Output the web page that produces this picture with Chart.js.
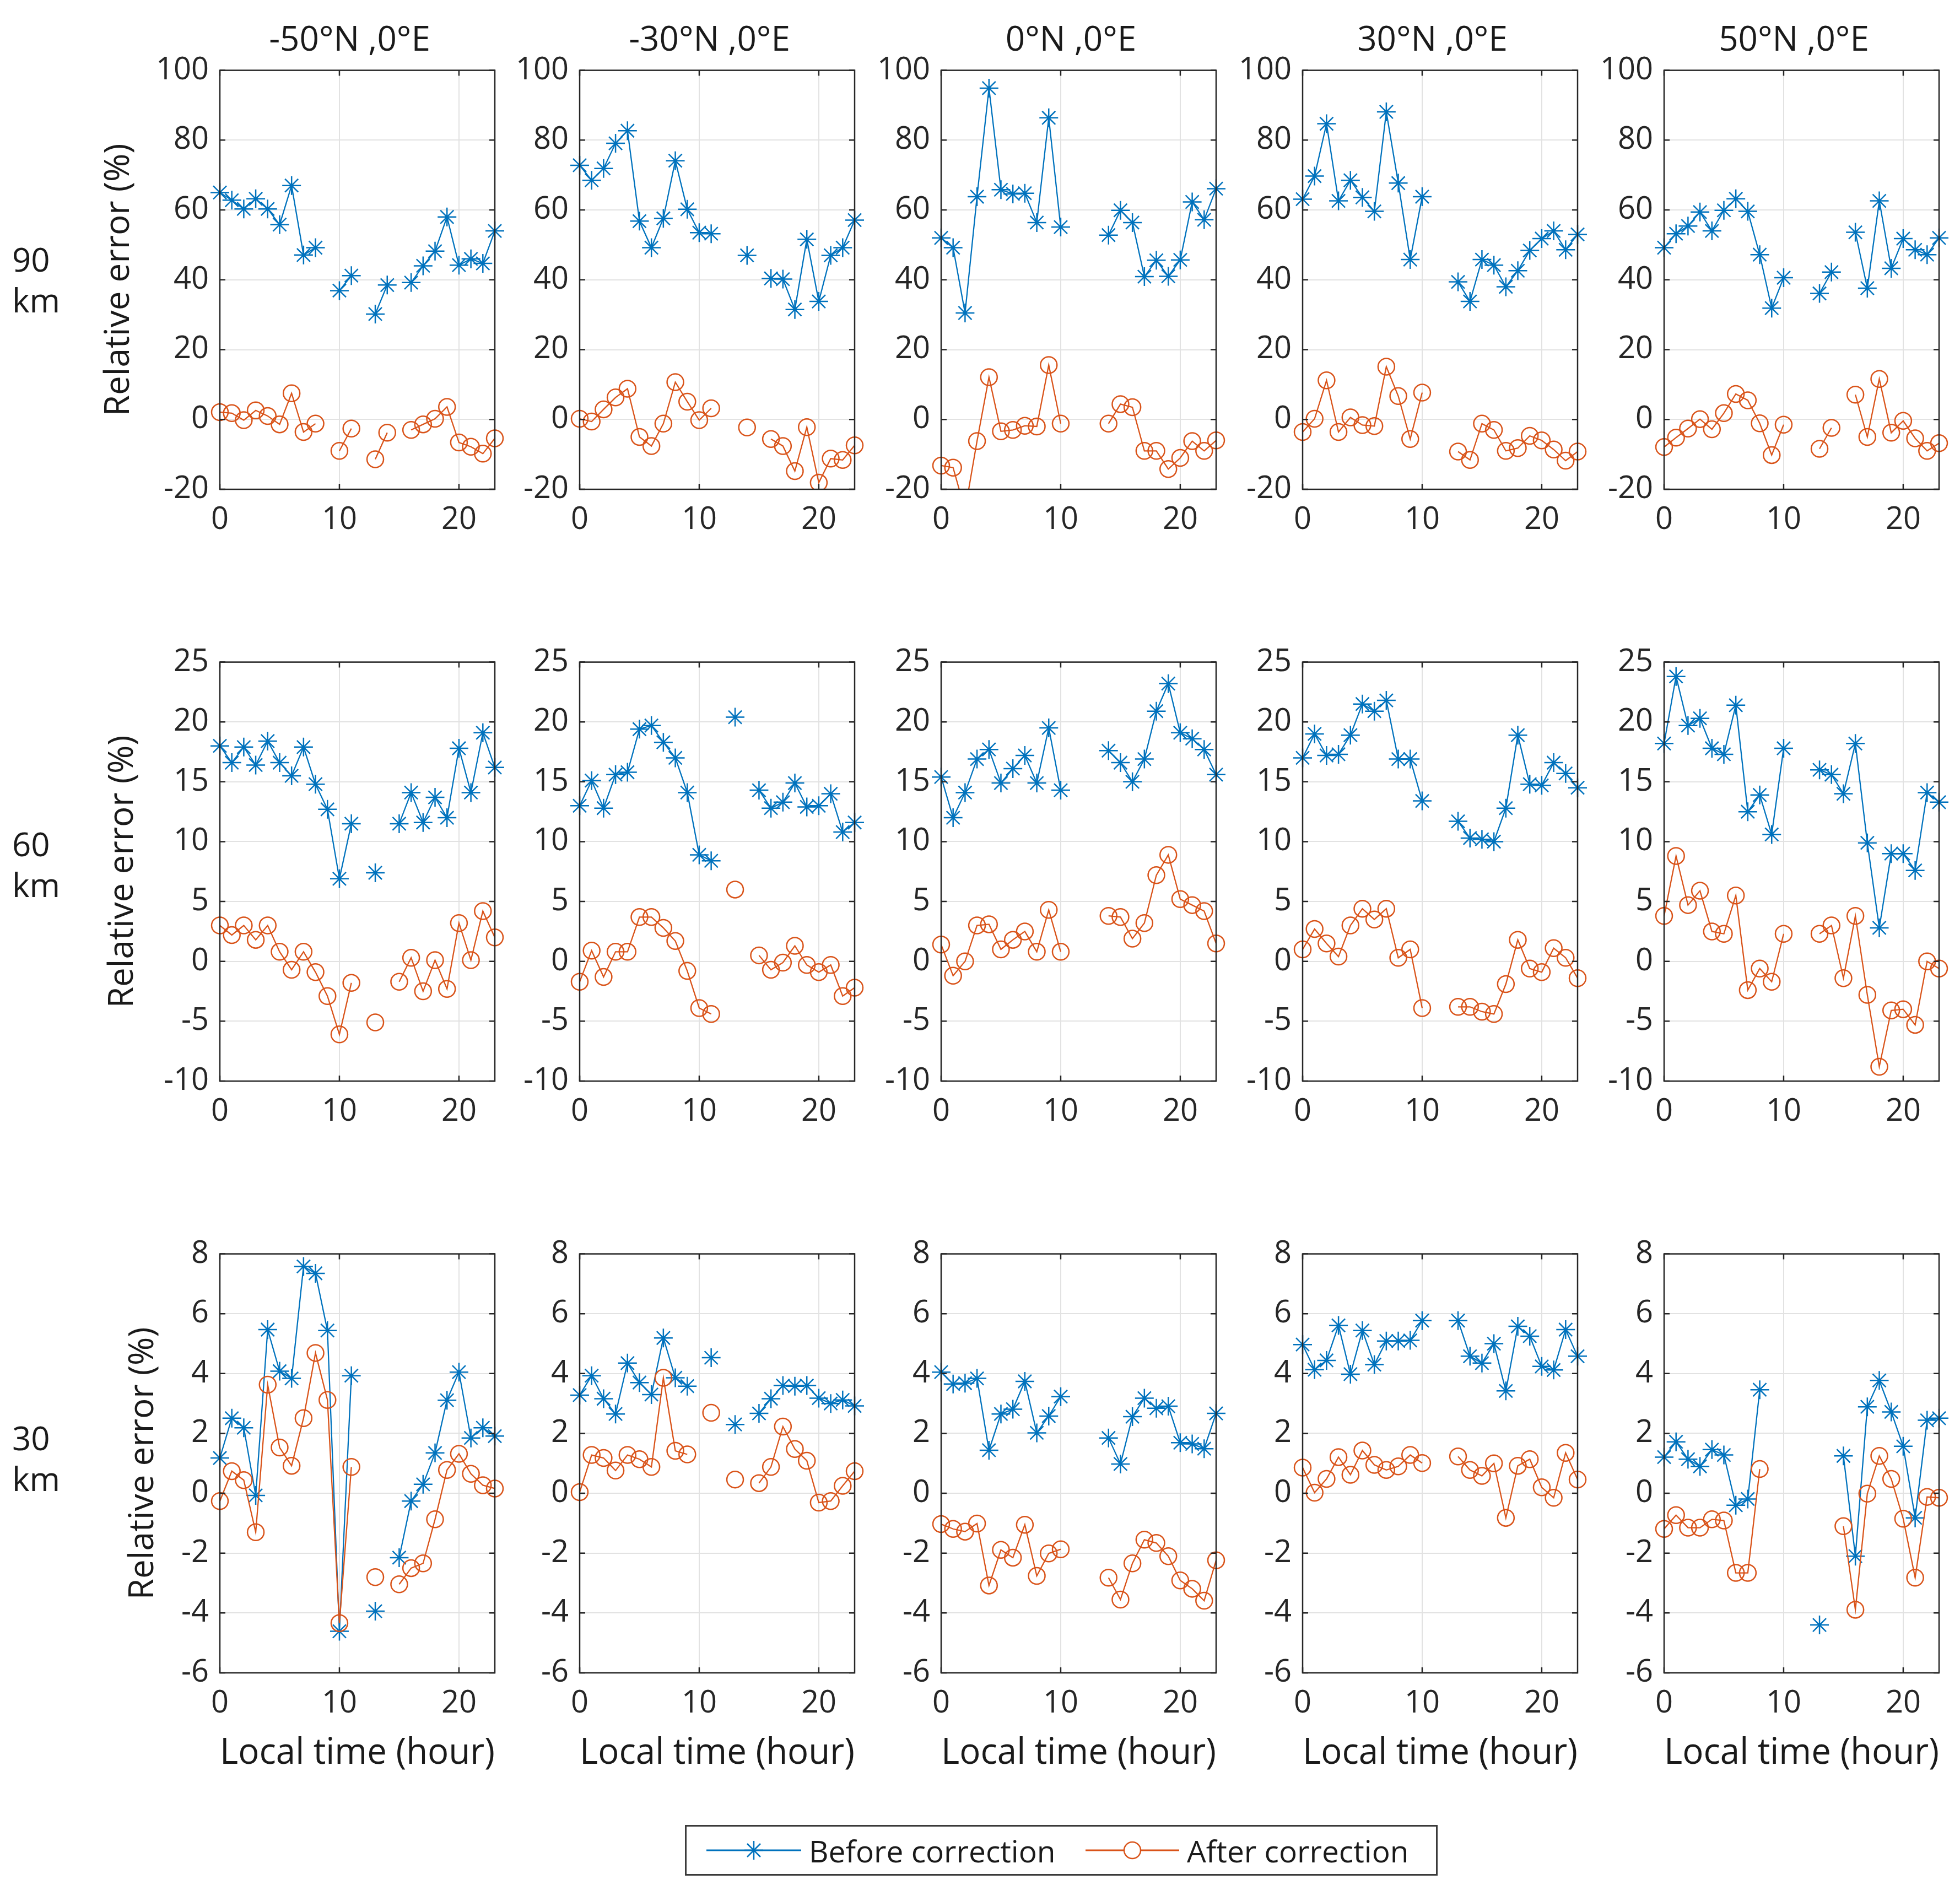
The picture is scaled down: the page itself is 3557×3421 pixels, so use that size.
<!DOCTYPE html>
<html>
<head>
<meta charset="utf-8">
<script src="https://cdn.jsdelivr.net/npm/chart.js@4.4.1/dist/chart.umd.min.js"></script>
<style>
  html,body{margin:0;padding:0;background:#fff;}
  body{width:3557px;height:3421px;position:relative;overflow:hidden;font-family:'Open Sans','Noto Sans',sans-serif;color:#1a1a1a;}
  canvas{position:absolute;}
  .ttl{position:absolute;font-size:62px;white-space:nowrap;transform:translate(-50%,-50%);}
  .alt{position:absolute;font-size:60px;line-height:74px;left:22px;}
  #legend{position:absolute;left:1243px;top:3312px;width:1360px;height:86px;border:3px solid #3a3a3a;background:#fff;}
  #legend .item{position:absolute;top:0;height:86px;display:flex;align-items:center;font-size:55px;}
  #legend svg{margin-right:14px;}
</style>
</head>
<body>
<div id="legend">
  <div class="item" style="left:36px">
    <svg width="172" height="60"><line x1="0" y1="30" x2="172" y2="30" stroke="#0072BD" stroke-width="3"/>
      <g stroke="#0072BD" stroke-width="2.5"><line x1="69" y1="30" x2="103" y2="30"/><line x1="86" y1="13" x2="86" y2="47"/><line x1="74" y1="18" x2="98" y2="42"/><line x1="74" y1="42" x2="98" y2="18"/></g></svg>
    <span>Before correction</span>
  </div>
  <div class="item" style="left:724px">
    <svg width="170" height="60"><line x1="0" y1="30" x2="170" y2="30" stroke="#D95319" stroke-width="3"/>
      <circle cx="85" cy="30" r="15" fill="#fff" stroke="#D95319" stroke-width="2.5"/></svg>
    <span>After correction</span>
  </div>
</div>
<script>
const HOURS = [0,1,2,3,4,5,6,7,8,9,10,11,12,13,14,15,16,17,18,19,20,21,22,23];
const XTICKS = [0,10,20];
const LATS = ['-50°N ,0°E','-30°N ,0°E','0°N ,0°E','30°N ,0°E','50°N ,0°E'];
const ALTS = ['90','60','30'];
const YTICKS_90 = [-20,0,20,40,60,80,100];
const YTICKS_60 = [-10,-5,0,5,10,15,20,25];
const YTICKS_30 = [-6,-4,-2,0,2,4,6,8];

// one row per latitude (-50, -30, 0, 30, 50), one value per local hour
const before_90 = [
  [65.0,62.8,60.3,63.2,60.3,55.8,67.0,47.1,49.2,null,36.9,41.2,null,30.2,38.5,null,39.2,44.0,48.2,58.0,44.2,46.0,44.7,54.0],
  [72.8,68.5,71.9,79.1,82.7,56.8,49.2,57.6,74.1,60.2,53.5,53.2,null,null,47.0,null,40.4,40.2,31.5,51.6,33.8,47.0,49.2,57.1],
  [52.0,49.2,30.5,63.8,94.9,65.8,64.6,64.8,56.4,86.4,55.1,null,null,null,52.8,59.9,56.4,40.9,45.6,41.0,45.7,62.3,57.2,66.1],
  [63.1,69.7,84.7,62.6,68.5,63.6,59.6,88.1,67.7,45.8,63.8,null,null,39.4,33.8,45.8,44.2,38.0,42.6,48.4,51.8,54.0,48.6,53.0],
  [49.2,53.2,55.4,59.4,54.0,59.9,63.2,59.6,47.2,31.9,40.6,null,null,36.1,42.2,null,53.6,37.6,62.6,43.3,51.8,48.6,47.2,52.0]
];
const after_90 = [
  [2.1,1.8,-0.2,2.6,1.0,-1.4,7.5,-3.6,-1.2,null,-9.0,-2.6,null,-11.4,-3.8,null,-3.0,-1.4,0.2,3.6,-6.6,-7.8,-9.8,-5.4],
  [0.2,-0.6,2.9,6.3,8.8,-5.0,-7.6,-1.2,10.7,5.1,-0.2,3.2,null,null,-2.3,null,-5.6,-7.6,-14.8,-2.2,-18.1,-11.2,-11.6,-7.4],
  [-13.2,-13.8,-26.0,-6.2,12.1,-3.4,-3.0,-1.8,-2.0,15.6,-1.2,null,null,null,-1.2,4.4,3.5,-9.0,-9.0,-14.2,-11.0,-6.2,-9.0,-6.0],
  [-3.6,0.2,11.2,-3.6,0.6,-1.6,-1.9,15.1,6.7,-5.6,7.7,null,null,-9.2,-11.6,-1.2,-3.0,-9.0,-8.2,-4.7,-6.0,-8.6,-11.8,-9.2],
  [-7.9,-5.2,-2.6,0.1,-2.8,1.8,7.3,5.5,-1.1,-10.2,-1.5,null,null,-8.4,-2.4,null,7.1,-5.0,11.6,-3.8,-0.4,-5.4,-9.0,-6.8]
];
const before_60 = [
  [18.0,16.6,17.9,16.4,18.4,16.6,15.5,17.9,14.8,12.7,6.9,11.5,null,7.4,null,11.5,14.1,11.6,13.7,12.0,17.8,14.1,19.1,16.2],
  [13.0,15.1,12.8,15.6,15.8,19.4,19.7,18.3,17.0,14.1,8.9,8.4,null,20.4,null,14.3,12.8,13.3,14.9,12.9,13.0,14.0,10.8,11.6],
  [15.4,12.0,14.1,16.9,17.7,14.9,16.1,17.2,14.9,19.5,14.3,null,null,null,17.6,16.6,15.0,16.9,20.9,23.2,19.1,18.6,17.7,15.6],
  [17.0,19.0,17.2,17.3,18.9,21.5,20.9,21.8,16.9,16.9,13.4,null,null,11.7,10.3,10.2,10.0,12.8,18.9,14.8,14.7,16.6,15.7,14.5],
  [18.2,23.8,19.7,20.3,17.8,17.3,21.4,12.5,13.9,10.6,17.8,null,null,16.0,15.6,14.0,18.2,9.9,2.8,9.0,9.0,7.6,14.1,13.3]
];
const after_60 = [
  [3.0,2.2,3.0,1.8,3.0,0.8,-0.7,0.8,-0.9,-2.9,-6.1,-1.8,null,-5.1,null,-1.7,0.3,-2.5,0.1,-2.3,3.2,0.1,4.2,2.0],
  [-1.7,0.9,-1.3,0.8,0.8,3.7,3.7,2.8,1.7,-0.8,-3.9,-4.4,null,6.0,null,0.5,-0.7,-0.1,1.3,-0.3,-0.9,-0.3,-2.9,-2.2],
  [1.4,-1.2,0.0,3.0,3.1,1.0,1.8,2.5,0.8,4.3,0.8,null,null,null,3.8,3.7,1.9,3.2,7.2,8.9,5.2,4.7,4.2,1.5],
  [1.0,2.7,1.5,0.4,3.0,4.4,3.5,4.4,0.3,1.0,-3.9,null,null,-3.8,-3.8,-4.2,-4.4,-1.9,1.8,-0.6,-0.9,1.1,0.3,-1.4],
  [3.8,8.8,4.7,5.9,2.5,2.3,5.5,-2.4,-0.6,-1.7,2.3,null,null,2.3,3.0,-1.4,3.8,-2.8,-8.8,-4.1,-4.0,-5.3,0.0,-0.6]
];
const before_30 = [
  [1.18,2.51,2.19,-0.07,5.47,4.08,3.84,7.58,7.35,5.44,-4.61,3.93,null,-3.94,null,-2.15,-0.26,0.30,1.35,3.11,4.05,1.85,2.19,1.91],
  [3.28,3.93,3.16,2.65,4.35,3.70,3.30,5.19,3.86,3.58,null,4.53,null,2.30,null,2.67,3.16,3.60,3.58,3.60,3.18,3.00,3.12,2.92],
  [4.05,3.65,3.68,3.84,1.44,2.65,2.81,3.74,2.02,2.58,3.23,null,null,null,1.85,0.98,2.56,3.18,2.84,2.91,1.69,1.65,1.49,2.67],
  [4.97,4.13,4.44,5.61,3.98,5.44,4.30,5.09,5.09,5.11,5.77,null,null,5.77,4.58,4.35,5.00,3.42,5.58,5.25,4.24,4.12,5.47,4.58],
  [1.21,1.72,1.14,0.90,1.46,1.28,-0.40,-0.19,3.46,null,null,null,null,-4.40,null,1.25,-2.10,2.89,3.77,2.72,1.57,-0.82,2.44,2.51]
];
const after_30 = [
  [-0.26,0.74,0.44,-1.30,3.63,1.53,0.92,2.51,4.69,3.12,-4.34,0.88,null,-2.80,null,-3.04,-2.50,-2.34,-0.87,0.78,1.32,0.65,0.27,0.16],
  [0.04,1.28,1.18,0.76,1.28,1.14,0.88,3.86,1.42,1.30,null,2.69,null,0.46,null,0.34,0.88,2.23,1.48,1.09,-0.31,-0.26,0.25,0.74],
  [-1.03,-1.19,-1.28,-1.01,-3.08,-1.89,-2.15,-1.05,-2.76,-2.01,-1.87,null,null,null,-2.82,-3.55,-2.34,-1.55,-1.66,-2.10,-2.91,-3.19,-3.59,-2.24],
  [0.86,0.02,0.48,1.21,0.62,1.43,0.95,0.78,0.90,1.28,1.01,null,null,1.23,0.78,0.58,1.00,-0.82,0.92,1.14,0.20,-0.15,1.35,0.46],
  [-1.19,-0.73,-1.15,-1.15,-0.87,-0.91,-2.66,-2.66,0.81,null,null,null,null,null,null,-1.10,-3.89,-0.01,1.25,0.48,-0.85,-2.82,-0.12,-0.15]
];

const BEFORE = [before_90, before_60, before_30];
const AFTER = [after_90, after_60, after_30];
const YTICKS = [YTICKS_90, YTICKS_60, YTICKS_30];

const BLUE = '#0072BD', ORANGE = '#D95319';
const INK = '#262626', GRID = '#e2e2e2';
const FONT = "'Open Sans','Noto Sans',sans-serif";

// layout of the plot boxes (px)
const PLOT_LEFT = [399, 1052, 1708, 2364, 3020];
const PLOT_TOP = [114, 1188, 2262];
const PLOT_W = 499, PLOT_H = 774;
const PAD_T = 40, PAD_R = 40;
const YW_FIRST = [220, 213, 176];   // y-scale width incl. axis title, first column
const YW = 130;

Chart.defaults.font.family = FONT;

const boxPlugin = {
  id:'box',
  afterDatasetsDraw(chart){
    const {ctx, chartArea:a, scales} = chart;
    ctx.save();
    ctx.strokeStyle = INK; ctx.lineWidth = 2.5;
    ctx.beginPath();
    scales.y.ticks.forEach(t=>{
      const y = scales.y.getPixelForValue(t.value);
      ctx.moveTo(a.left, y); ctx.lineTo(a.left+10, y);
      ctx.moveTo(a.right, y); ctx.lineTo(a.right-10, y);
    });
    scales.x.ticks.forEach(t=>{
      const x = scales.x.getPixelForValue(t.value);
      ctx.moveTo(x, a.bottom); ctx.lineTo(x, a.bottom-10);
      ctx.moveTo(x, a.top); ctx.lineTo(x, a.top+10);
    });
    ctx.stroke();
    ctx.strokeRect(a.left, a.top, a.right-a.left, a.bottom-a.top);
    ctx.restore();
  }
};

function pts(vals){ return HOURS.map((h,i)=>({x:h, y:vals[i]})); }

function makePanel(r, c){
  const yw = c===0 ? YW_FIRST[r] : YW;
  const xh = r===2 ? 186 : 100;
  const cv = document.createElement('canvas');
  cv.width = yw + PLOT_W + PAD_R;
  cv.height = PAD_T + PLOT_H + xh;
  cv.style.left = (PLOT_LEFT[c] - yw) + 'px';
  cv.style.top = (PLOT_TOP[r] - PAD_T) + 'px';
  document.body.appendChild(cv);
  const yt = YTICKS[r];
  const clip = {left:30, top:30, right:30, bottom:0};
  new Chart(cv, {
    type:'line',
    data:{datasets:[
      {label:'Before correction', data:pts(BEFORE[r][c]), borderColor:BLUE, backgroundColor:BLUE, borderWidth:2.3,
       pointStyle:'star', pointRadius:17, pointBorderWidth:2.5, pointBorderColor:BLUE, spanGaps:false, order:1, clip},
      {label:'After correction', data:pts(AFTER[r][c]), borderColor:ORANGE, backgroundColor:'rgba(0,0,0,0)', borderWidth:2.3,
       pointStyle:'circle', pointRadius:15, pointBorderWidth:2.5, pointBorderColor:ORANGE, spanGaps:false, order:0, clip}
    ]},
    options:{
      responsive:false, animation:false, devicePixelRatio:1,
      layout:{padding:{top:PAD_T, right:PAD_R, left:0, bottom:0}},
      plugins:{legend:{display:false}, tooltip:{enabled:false}},
      elements:{line:{tension:0}},
      scales:{
        x:{type:'linear', min:0, max:23,
          afterBuildTicks:ax=>{ ax.ticks = XTICKS.map(v=>({value:v})); },
          afterFit:s=>{ s.height = xh; },
          grid:{color:GRID, lineWidth:2, drawTicks:false},
          border:{display:false},
          ticks:{color:INK, font:{size:56}, padding:22, maxRotation:0, autoSkip:false},
          title:{display:r===2, text:'Local time (hour)', color:'#1a1a1a', font:{size:66}, padding:0}
        },
        y:{type:'linear', min:yt[0], max:yt[yt.length-1],
          afterBuildTicks:ax=>{ ax.ticks = yt.map(v=>({value:v})); },
          afterFit:s=>{ s.width = yw; },
          grid:{color:GRID, lineWidth:2, drawTicks:false},
          border:{display:false},
          ticks:{color:INK, font:{size:56}, padding:20, autoSkip:false},
          title:{display:c===0, text:'Relative error (%)', color:'#1a1a1a', font:{size:62}, padding:0}
        }
      }
    },
    plugins:[boxPlugin]
  });
}

for(let r=0;r<3;r++) for(let c=0;c<5;c++) makePanel(r,c);

LATS.forEach((t,c)=>{
  const d = document.createElement('div'); d.className='ttl'; d.textContent = t;
  d.style.left = (PLOT_LEFT[c] + PLOT_W/2 - 14) + 'px'; d.style.top = '68px';
  document.body.appendChild(d);
});
const ALT_TOP = [433, 1494, 2572];
ALTS.forEach((a,r)=>{
  const d = document.createElement('div'); d.className='alt';
  d.innerHTML = a + '<br>km'; d.style.top = ALT_TOP[r] + 'px';
  document.body.appendChild(d);
});
</script>
</body>
</html>
